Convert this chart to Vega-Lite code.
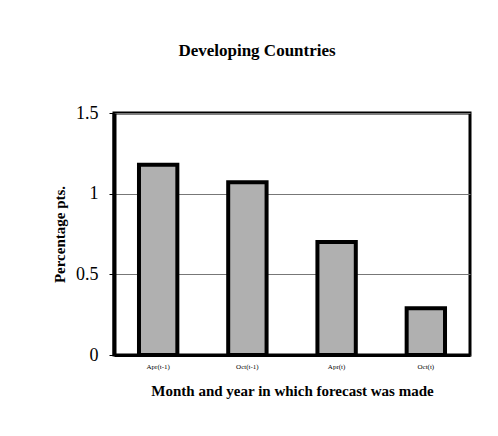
{
  "$schema": "https://vega.github.io/schema/vega-lite/v6.json",
  "width": 356,
  "height": 242,
  "autosize": "none",
  "padding": {"left": 114, "top": 113, "right": 28, "bottom": 81},
  "background": "white",
  "title": {
    "text": "Developing Countries",
    "font": "Liberation Serif",
    "fontSize": 17,
    "fontWeight": "bold",
    "color": "black",
    "anchor": "middle",
    "dx": -35,
    "offset": 44
  },
  "data": {
    "values": [
      {"period": "Apr(t-1)", "value": 1.18},
      {"period": "Oct(t-1)", "value": 1.07},
      {"period": "Apr(t)", "value": 0.70},
      {"period": "Oct(t)", "value": 0.29}
    ]
  },
  "mark": {"type": "bar", "color": "#b0b0b0", "stroke": "black", "strokeWidth": 4},
  "encoding": {
    "x": {
      "field": "period",
      "type": "nominal",
      "sort": null,
      "scale": {"paddingInner": 0.57, "paddingOuter": 0.28},
      "axis": {
        "title": "Month and year in which forecast was made",
        "titleFont": "Liberation Serif",
        "titleFontSize": 15,
        "titleFontWeight": "bold",
        "titleColor": "black",
        "titlePadding": 14,
        "labelFont": "Liberation Serif",
        "labelFontSize": 7,
        "labelColor": "black",
        "labelAngle": 0,
        "labelPadding": 7,
        "ticks": false,
        "domainColor": "black",
        "domainWidth": 3
      }
    },
    "y": {
      "field": "value",
      "type": "quantitative",
      "scale": {"domain": [0, 1.5], "nice": false},
      "axis": {
        "title": "Percentage pts.",
        "titleFont": "Liberation Serif",
        "titleFontSize": 15,
        "titleFontWeight": "bold",
        "titleColor": "black",
        "titlePadding": 8,
        "values": [0, 0.5, 1, 1.5],
        "format": "~g",
        "labelFont": "Liberation Serif",
        "labelFontSize": 18,
        "labelColor": "black",
        "labelPadding": 11,
        "tickColor": "black",
        "tickSize": 5,
        "domainColor": "black",
        "domainWidth": 4,
        "grid": true,
        "gridColor": "#777777",
        "gridWidth": 1
      }
    }
  },
  "config": {
    "view": {"stroke": "black", "strokeWidth": 3}
  }
}
